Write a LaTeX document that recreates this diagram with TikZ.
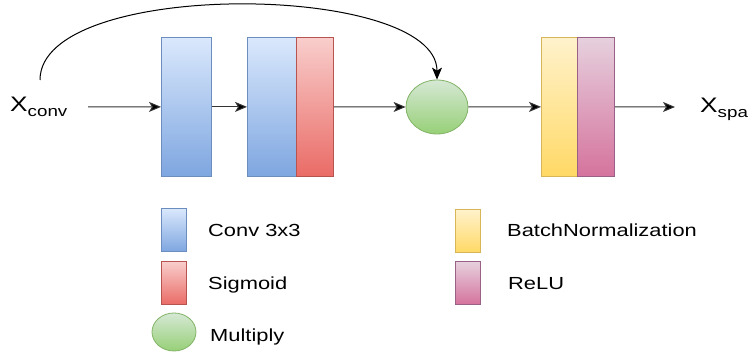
\documentclass[tikz,border=0pt]{standalone}
\usepackage{fontspec}
\setmainfont{Liberation Sans}[FakeStretch=1.25]
\usetikzlibrary{arrows.meta,shapes.geometric}
\definecolor{convTop}{HTML}{DAE8FC}\definecolor{convBot}{HTML}{7EA6E0}\definecolor{convLine}{HTML}{6C8EBF}
\definecolor{sigTop}{HTML}{F8CECC}\definecolor{sigBot}{HTML}{EA6B66}\definecolor{sigLine}{HTML}{B85450}
\definecolor{mulTop}{HTML}{D5E8D4}\definecolor{mulBot}{HTML}{97D077}\definecolor{mulLine}{HTML}{82B366}
\definecolor{bnTop}{HTML}{FFF2CC}\definecolor{bnBot}{HTML}{FFD966}\definecolor{bnLine}{HTML}{D6B656}
\definecolor{reTop}{HTML}{E6D0DE}\definecolor{reBot}{HTML}{D5739D}\definecolor{reLine}{HTML}{996185}
\definecolor{lineGray}{HTML}{333333}
\tikzset{
  blk/.style={rectangle, draw, line width=0.8pt, inner sep=0pt, anchor=north west},
  convblk/.style={blk, draw=convLine, top color=convTop, bottom color=convBot},
  sigblk/.style={blk, draw=sigLine, top color=sigTop, bottom color=sigBot},
  bnblk/.style={blk, draw=bnLine, top color=bnTop, bottom color=bnBot},
  reblk/.style={blk, draw=reLine, top color=reTop, bottom color=reBot},
  mulnode/.style={ellipse, draw=mulLine, line width=0.8pt, top color=mulTop, bottom color=mulBot, inner sep=0pt},
  conn/.style={draw=lineGray, line width=1pt, -{Stealth[length=12pt,width=10pt,inset=3pt,fill=black]}},
  lgtext/.style={anchor=base west, inner sep=0pt, font=\fontsize{17.5}{20}\selectfont},
  iotext/.style={anchor=base west, inner sep=0pt, font=\fontsize{21}{24}\selectfont}
}
\begin{document}
\begin{tikzpicture}[x=1pt,y=-1pt]
\useasboundingbox (0,0) rectangle (750,352);
% main blocks
\node[convblk, minimum width=50pt, minimum height=139pt] (c1) at (161,37) {};
\node[convblk, minimum width=49pt, minimum height=139pt] (c2) at (247,37) {};
\node[sigblk, minimum width=37pt, minimum height=139pt] (sg) at (296,37) {};
\node[mulnode, minimum width=62pt, minimum height=54pt] (mul) at (437,107) {};
\node[bnblk, minimum width=36pt, minimum height=139pt] (bn) at (541,37) {};
\node[reblk, minimum width=37pt, minimum height=139pt] (re) at (577,37) {};
% inputs / outputs
\node[iotext] (xin) at (10,112) {X\raisebox{-5pt}{\fontsize{15}{15}\selectfont conv}};
\node[iotext] (xout) at (700,112.5) {X\raisebox{-5pt}{\fontsize{15}{15}\selectfont spa}};
\coordinate (inStart) at (88,107);
\coordinate (outEnd) at (675,107);
\coordinate (curveStart) at (40,80);
% connectors
\draw[conn] (inStart) -- (c1.west);
\draw[conn] (c1.east) -- (c2.west);
\draw[conn] (sg.east) -- (mul.west);
\draw[conn] (mul.east) -- (bn.west);
\draw[conn] (re.east) -- (outEnd);
\draw[conn, draw=black] (curveStart) .. controls (40,-22) and (437,-18) .. (mul.north);
% legend
\node[convblk, minimum width=25pt, minimum height=43pt] (lc) at (161,208) {};
\node[sigblk, minimum width=25pt, minimum height=43pt] (ls) at (161,261) {};
\node[mulnode, minimum width=44pt, minimum height=38pt] (lm) at (174,332) {};
\node[bnblk, minimum width=25pt, minimum height=43pt] (lb) at (455,209) {};
\node[reblk, minimum width=25pt, minimum height=43pt] (lr) at (455,261) {};
\node[lgtext] (tc) at (208,237) {Conv 3x3};
\node[lgtext] (ts) at (208,290) {Sigmoid};
\node[lgtext] (tm) at (210,342) {Multiply};
\node[lgtext] (tb) at (507,237) {BatchNormalization};
\node[lgtext] (tr) at (508,290) {ReLU};
\end{tikzpicture}
\end{document}
